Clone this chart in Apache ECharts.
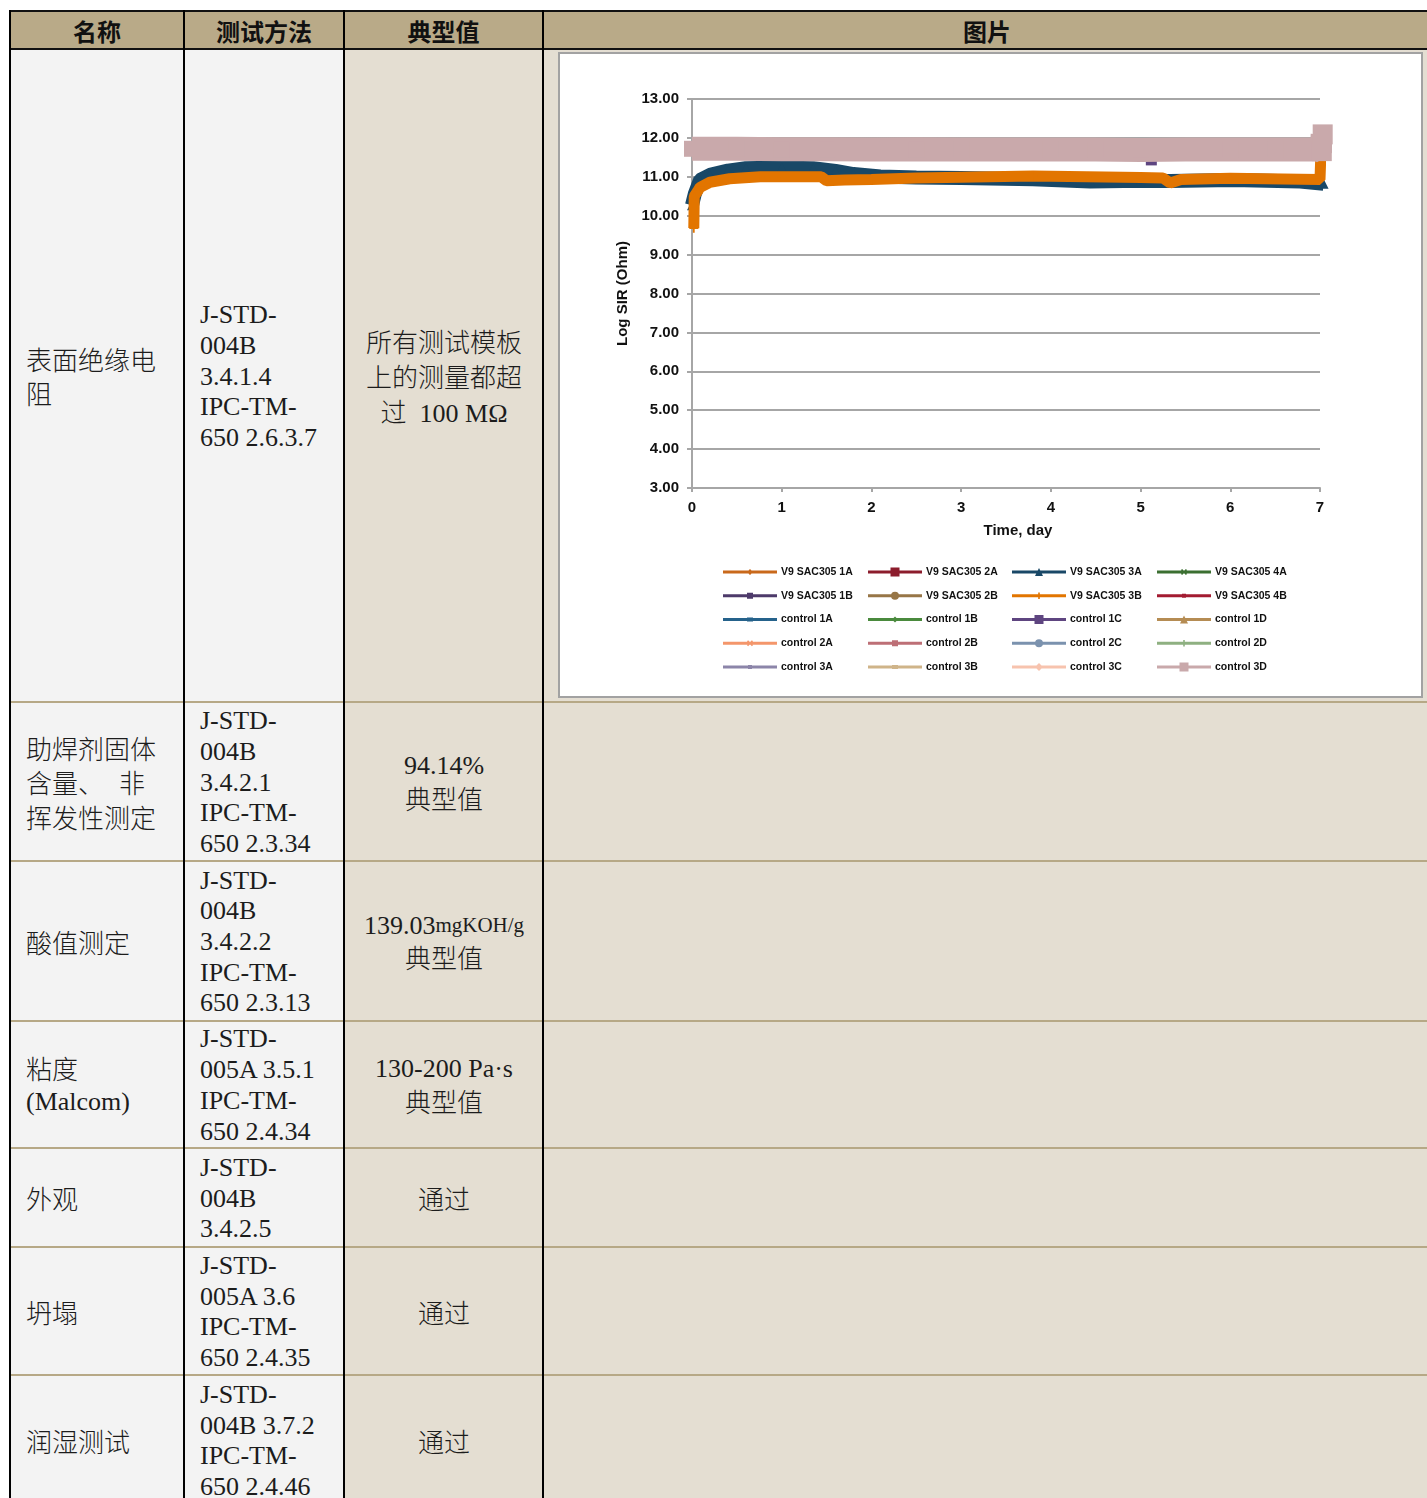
<!DOCTYPE html>
<html><head><meta charset="utf-8">
<script src="https://cdn.jsdelivr.net/npm/echarts@6/dist/echarts.min.js"></script>
<style>
html,body{margin:0;padding:0;background:#fff;}
#page{position:relative;width:1427px;height:1498px;overflow:hidden;background:#fff;}
.bg{position:absolute;}
.vline{position:absolute;background:#000;width:2px;}
.hline{position:absolute;background:#b6a886;height:2px;}
.cell{position:absolute;display:flex;flex-direction:column;justify-content:center;
  font-family:"Liberation Serif","Times New Roman","Noto Sans CJK SC",serif;font-size:26px;font-weight:300;color:#1c1c1c;white-space:nowrap;}
.cell div{display:flex;align-items:center;}
.ctr{align-items:center;}
.ctr div{justify-content:center;}
.hdr{position:absolute;display:flex;align-items:center;justify-content:center;font-family:"Noto Sans CJK SC",sans-serif;font-weight:700;font-size:24px;color:#111;}
#chart{position:absolute;left:558px;top:52px;width:861px;height:642px;border:2px solid #a2a2a2;background:#fff;}
</style></head>
<body><div id="page"><div id="chart"></div></div>
<script>
// ---------- chart data ----------
const tBlue  = [0, 0.03, 0.09, 0.2, 0.4, 0.6, 1.0, 1.35, 1.6, 1.8, 2.1, 2.5, 3.0, 3.8, 4.44, 5.0, 5.33, 6.03, 6.78, 7.04];
const vBlue  = [10.27, 10.55, 10.92, 11.05, 11.16, 11.22, 11.24, 11.22, 11.15, 11.07, 11.01, 10.98, 10.97, 10.94, 10.88, 10.9, 10.89, 10.92, 10.88, 10.82];
const tOrange = [0.02, 0.025, 0.06, 0.09, 0.2, 0.42, 0.76, 1.0, 1.44, 1.5, 1.7, 2.0, 2.5, 3.0, 3.8, 4.4, 5.0, 5.25, 5.33, 5.45, 6.0, 6.78, 7.0, 7.01];
const vOrange = [9.68, 10.5, 10.62, 10.73, 10.86, 10.95, 11.0, 11.0, 11.0, 10.9, 10.92, 10.93, 10.97, 10.99, 11.02, 11.0, 10.98, 10.97, 10.84, 10.93, 10.96, 10.94, 10.93, 11.6];
const tPink = [0, 0.5, 1, 1.5, 2, 2.5, 3, 3.5, 4, 4.5, 5, 5.5, 6, 6.5, 6.98, 7.02, 7.03];
const vPink = [11.72, 11.72, 11.71, 11.71, 11.70, 11.71, 11.70, 11.70, 11.70, 11.70, 11.69, 11.70, 11.70, 11.70, 11.70, 11.66, 12.09];
const tC1C = [0, 1, 2, 3, 4, 5, 5.12, 5.2, 6, 7];
const vC1C = [11.62, 11.65, 11.64, 11.63, 11.63, 11.62, 11.37, 11.6, 11.62, 11.6];
const tHidden = [0, 1, 2, 3, 4, 5, 6, 7];
const v1A = [11.60, 11.66, 11.68, 11.67, 11.66, 11.66, 11.65, 11.66];
const v2A = [11.70, 11.74, 11.75, 11.74, 11.73, 11.73, 11.72, 11.72];
const v4A = [11.65, 11.70, 11.72, 11.71, 11.70, 11.70, 11.69, 11.70];
const v1B = [11.62, 11.68, 11.70, 11.69, 11.68, 11.68, 11.67, 11.67];
const v2B = [11.68, 11.72, 11.73, 11.72, 11.71, 11.71, 11.70, 11.70];
const v4B = [11.66, 11.71, 11.72, 11.72, 11.71, 11.70, 11.70, 11.69];
const vC1A = [11.75, 11.78, 11.79, 11.78, 11.78, 11.77, 11.77, 11.76];
const vC1B = [11.72, 11.76, 11.77, 11.76, 11.76, 11.75, 11.75, 11.74];
const vC1D = [11.70, 11.73, 11.74, 11.73, 11.73, 11.72, 11.72, 11.72];
const vC2A = [11.78, 11.80, 11.81, 11.80, 11.80, 11.79, 11.79, 11.79];
const vC2B = [11.68, 11.71, 11.72, 11.71, 11.71, 11.70, 11.70, 11.70];
const vC2C = [11.74, 11.77, 11.78, 11.77, 11.77, 11.76, 11.76, 11.75];
const vC2D = [11.66, 11.69, 11.70, 11.70, 11.69, 11.69, 11.68, 11.68];
const vC3A = [11.64, 11.67, 11.68, 11.68, 11.67, 11.67, 11.66, 11.66];
const vC3B = [11.70, 11.72, 11.73, 11.73, 11.72, 11.72, 11.71, 11.71];
const vC3C = [11.76, 11.78, 11.79, 11.79, 11.78, 11.78, 11.77, 11.77];
const yTicks = [3, 13, 1];   // min, max, interval
const xTicks = [0, 7, 1];

const seriesNames = ['V9 SAC305 1A','V9 SAC305 2A','V9 SAC305 3A','V9 SAC305 4A',
  'V9 SAC305 1B','V9 SAC305 2B','V9 SAC305 3B','V9 SAC305 4B',
  'control 1A','control 1B','control 1C','control 1D',
  'control 2A','control 2B','control 2C','control 2D',
  'control 3A','control 3B','control 3C','control 3D'];
const seriesColors = ['#c9691b','#8c1c2c','#194867','#3b6f31',
  '#4d3a6a','#977647','#e27500','#a31b31',
  '#25628b','#4a8a3d','#5e4580','#b58c53',
  '#f4966b','#bd6f76','#7b92ae','#8eb081',
  '#8c85a9','#cfb489','#f7c3ae','#c9a9ab'];
const markerKinds = ['diamond','rect','triangle','x','rect','circle','plus','dash',
  'dash','diamond','rect','triangle','x','rect','circle','plus','dash','dash','diamond','rect'];
const markerHalf = [3,4.5,4,3,3,4,3.2,2,3,3,4.5,4,3,3,4,3.2,2,3,4,4.5];

// ---------- table ----------
const page = document.getElementById('page');
const colX = [10, 184, 344, 543, 1431];
const rowY = [49, 702, 861, 1021, 1148, 1247, 1375, 1505];
const headers = ['名称','测试方法','典型值','图片'];
const col1 = [['表面绝缘电','阻'], ['助焊剂固体','含量、<span style="display:inline-block;width:15px"></span>非','挥发性测定'], ['酸值测定'],
  ['粘度','(Malcom)'], ['外观'], ['坍塌'], ['润湿测试']];
const col2 = [['J-STD-','004B','3.4.1.4','IPC-TM-','650 2.6.3.7'], ['J-STD-','004B','3.4.2.1','IPC-TM-','650 2.3.34'],
  ['J-STD-','004B','3.4.2.2','IPC-TM-','650 2.3.13'], ['J-STD-','005A 3.5.1','IPC-TM-','650 2.4.34'],
  ['J-STD-','004B','3.4.2.5'], ['J-STD-','005A 3.6','IPC-TM-','650 2.4.35'], ['J-STD-','004B 3.7.2','IPC-TM-','650 2.4.46']];
const col3 = [['所有测试模板','上的测量都超','过&nbsp; 100 MΩ'], ['94.14%','典型值'], ['139.03<span style="font-size:21px">mgKOH/g</span>','典型值'],
  ['130-200 Pa·s','典型值'], ['通过'], ['通过'], ['通过']];
const col1H = [34.5, 34.5, 34.5, 34, 34.5, 34.5, 34.5];
const col3H = [35, 31, 31, 31, 31, 31, 31];

function add(cls, style, html){ const d=document.createElement('div'); d.className=cls; d.setAttribute('style',style); if(html!==undefined) d.innerHTML=html; page.insertBefore(d, document.getElementById('chart')); return d; }
add('bg', `left:10px;top:11px;width:1421px;height:38px;background:#b9aa88;`);
for (let i=0;i<4;i++) add('hdr', `left:${colX[i]}px;top:11px;width:${colX[i+1]-colX[i]}px;height:38px;`, headers[i]);
add('bg', `left:10px;top:49px;width:${344-10}px;height:${1505-49}px;background:#f3f3f3;`);
add('bg', `left:344px;top:49px;width:${1431-344}px;height:${1505-49}px;background:#e4ded2;`);
for (let r=0;r<7;r++){
  const top=rowY[r], h=rowY[r+1]-rowY[r];
  add('cell', `left:26px;top:${top}px;width:150px;height:${h}px;`, col1[r].map(s=>`<div style="height:${col1H[r]}px">${s}</div>`).join(''));
  add('cell', `left:200px;top:${top+1}px;width:140px;height:${h}px;`, col2[r].map(s=>`<div style="height:30.7px">${s}</div>`).join(''));
  add('cell ctr', `left:345px;top:${top}px;width:198px;height:${h}px;`, col3[r].map(s=>`<div style="height:${col3H[r]}px">${s}</div>`).join(''));
}
for (let r=1;r<7;r++) add('hline', `left:10px;top:${rowY[r]-1}px;width:1421px;`);
add('bg', `left:10px;top:10px;width:1421px;height:2px;background:#111;`);
add('bg', `left:10px;top:48px;width:1421px;height:2px;background:#111;`);
[10,184,344,543].forEach(x=>add('vline', `left:${x-1}px;top:10px;height:1490px;`));

// ---------- chart ----------
function legendIcon(kind, s){
  const cx=27, cy=5;
  let p='M0,0 M54,10 M0,3.6 L54,3.6 L54,6.4 L0,6.4 Z ';
  const t=1.1;
  switch(kind){
    case 'diamond': p+=`M${cx},${cy-s} L${cx+s},${cy} L${cx},${cy+s} L${cx-s},${cy} Z`; break;
    case 'rect': p+=`M${cx-s},${cy-s} L${cx+s},${cy-s} L${cx+s},${cy+s} L${cx-s},${cy+s} Z`; break;
    case 'triangle': p+=`M${cx},${cy-s} L${cx+s},${cy+s} L${cx-s},${cy+s} Z`; break;
    case 'circle': p+=`M${cx-s},${cy} A${s},${s} 0 1,1 ${cx+s},${cy} A${s},${s} 0 1,1 ${cx-s},${cy} Z`; break;
    case 'x': p+=`M${cx-s+t},${cy-s} L${cx+s},${cy+s-t} L${cx+s-t},${cy+s} L${cx-s},${cy-s+t} Z M${cx+s-t},${cy-s} L${cx+s},${cy-s+t} L${cx-s+t},${cy+s} L${cx-s},${cy+s-t} Z`; break;
    case 'plus': p+=`M${cx-0.8},${cy-s} L${cx+0.8},${cy-s} L${cx+0.8},${cy+s} L${cx-0.8},${cy+s} Z`; break;
    case 'dash': p+=`M${cx-s},${cy-1.9} L${cx+s},${cy-1.9} L${cx+s},${cy+1.9} L${cx-s},${cy+1.9} Z`; break;
  }
  return 'path://'+p;
}
const plusSym = 'path://M4,0 L6,0 L6,4 L10,4 L10,6 L6,6 L6,10 L4,10 L4,6 L0,6 L0,4 L4,4 Z';
const xSym = 'path://M1,0 L5,4 L9,0 L10,1 L6,5 L10,9 L9,10 L5,6 L1,10 L0,9 L4,5 L0,1 Z';
const dashSym = 'path://M0,0 L10,0 L10,3 L0,3 Z';
function plotSymbol(kind){ return kind==='plus'?plusSym: kind==='x'?xSym: kind==='dash'?dashSym: kind==='rect'?'rect':kind; }
const zip = (t,v)=>t.map((x,i)=>[x,v[i]]);

const seriesData = {
  'V9 SAC305 1A': zip(tHidden,v1A), 'V9 SAC305 2A': zip(tHidden,v2A), 'V9 SAC305 3A': zip(tBlue,vBlue), 'V9 SAC305 4A': zip(tHidden,v4A),
  'V9 SAC305 1B': zip(tHidden,v1B), 'V9 SAC305 2B': zip(tHidden,v2B), 'V9 SAC305 3B': zip(tOrange,vOrange), 'V9 SAC305 4B': zip(tHidden,v4B),
  'control 1A': zip(tHidden,vC1A), 'control 1B': zip(tHidden,vC1B), 'control 1C': zip(tC1C,vC1C), 'control 1D': zip(tHidden,vC1D),
  'control 2A': zip(tHidden,vC2A), 'control 2B': zip(tHidden,vC2B), 'control 2C': zip(tHidden,vC2C), 'control 2D': zip(tHidden,vC2D),
  'control 3A': zip(tHidden,vC3A), 'control 3B': zip(tHidden,vC3B), 'control 3C': zip(tHidden,vC3C), 'control 3D': zip(tPink,vPink)
};
const widths = {'V9 SAC305 3A':14, 'V9 SAC305 3B':11, 'control 3D':24, 'control 1C':3};
const series = seriesNames.map((n,i)=>{
  const s = {name:n, type:'line', data:seriesData[n], clip:false, silent:true,
    color:seriesColors[i], lineStyle:{width:widths[n]||2.5, color:seriesColors[i]},
    itemStyle:{color:seriesColors[i], borderWidth:0},
    symbol:plotSymbol(markerKinds[i]), symbolSize:8, showSymbol:false, emphasis:{disabled:true}, z:2+i};
  if (n==='V9 SAC305 3A'){ s.showSymbol=true; s.symbolSize=10; }
  if (n==='V9 SAC305 3B'){ s.showSymbol=true; s.symbolSize=9; }
  if (n==='control 1C'){ s.showSymbol=true; s.symbolSize=[11,6]; }
  if (n==='control 3D'){ s.showSymbol=true; const L=vPink.length; s.symbolSize=(v,p)=>p.dataIndex>=L-2?20:16; }
  return s;
});
const legendCols = [0,1,2,3].map(c=>[0,1,2,3,4].map(r=>r*4+c));
const legendLeft = [163, 308, 452, 597];
const txt = {fontFamily:'"Liberation Sans", Arial, sans-serif', fontWeight:'bold', color:'#111'};

const chart = echarts.init(document.getElementById('chart'), null, {renderer:'canvas'});
chart.setOption({
  animation:false,
  backgroundColor:'#fff',
  grid:{left:132, top:45, width:628, height:389, containLabel:false},
  xAxis:{type:'value', min:xTicks[0], max:xTicks[1], interval:xTicks[2],
    name:'Time, day', nameLocation:'middle', nameGap:35,
    nameTextStyle:Object.assign({fontSize:15, padding:[0,0,0,24]}, txt),
    axisLine:{show:true, onZero:false, lineStyle:{color:'#a6a6a6', width:2}},
    axisTick:{show:true, length:4, inside:false, lineStyle:{color:'#a6a6a6', width:2}},
    axisLabel:Object.assign({fontSize:15, margin:12}, txt),
    splitLine:{show:false}},
  yAxis:{type:'value', min:yTicks[0], max:yTicks[1], interval:yTicks[2],
    name:'Log SIR (Ohm)', nameLocation:'middle', nameGap:62, nameRotate:90,
    nameTextStyle:Object.assign({fontSize:15}, txt),
    axisLine:{show:true, lineStyle:{color:'#a6a6a6', width:2}},
    axisTick:{show:true, length:5, inside:false, lineStyle:{color:'#a6a6a6', width:2}},
    axisLabel:Object.assign({fontSize:15, margin:13, formatter:v=>v.toFixed(2)}, txt),
    splitLine:{show:true, lineStyle:{color:'#a6a6a6', width:2}}},
  legend: legendCols.map((idx,c)=>({
    orient:'vertical', left:legendLeft[c], top:512, itemWidth:54, itemHeight:10, itemGap:11.75,
    selectedMode:false, padding:0,
    itemStyle:{borderWidth:0},
    data: idx.map(i=>({name:seriesNames[i], icon:legendIcon(markerKinds[i], markerHalf[i])})),
    textStyle:Object.assign({fontSize:10.5, lineHeight:12, padding:[0,0,0,-1]}, txt)
  })),
  series
});
</script></body></html>
